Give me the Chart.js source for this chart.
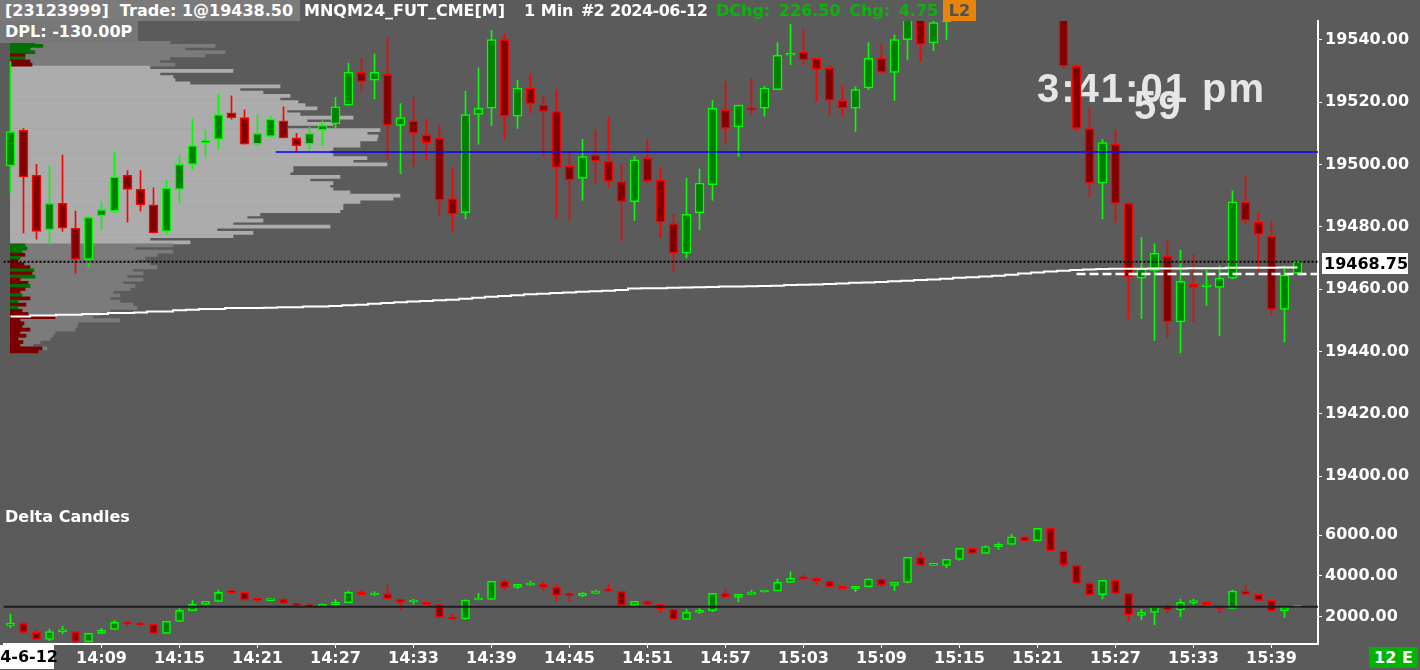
<!DOCTYPE html>
<html>
<head>
<meta charset="utf-8">
<script src="https://cdn.jsdelivr.net/npm/chart.js@4.4.1/dist/chart.umd.min.js"></script>
<style>
  html, body { margin: 0; padding: 0; }
  body { width: 1420px; height: 670px; overflow: hidden; position: relative; background: #5b5b5b;
         font-family: 'DejaVu Sans', sans-serif; font-weight: bold; font-size: 16px; color: #fff; }
  canvas, .lbl { position: absolute; }
  .lbl { white-space: pre; line-height: 21px; height: 21px; }
  .clock { position: absolute; font-family: 'Liberation Sans', Arial, sans-serif; font-weight: bold;
           font-size: 40px; line-height: 40px; letter-spacing: 2px; color: #e6e6e6; white-space: pre; }
</style>
</head>
<body>
<canvas id="profile" width="1318" height="500" style="left:0;top:0"></canvas>
<div class="clock" style="left:1037px;top:68px">3:41:01 pm</div>
<div class="clock" style="left:1134px;top:85px">59</div>
<canvas id="price" width="1420" height="500" style="left:0;top:0"></canvas>
<canvas id="delta" width="1420" height="170" style="left:0;top:500px"></canvas>

<div class="lbl" style="left:0;top:0;width:295px;padding-left:5px;background:#7b7b7b">[23123999]  Trade: 1@19438.50</div>
<div class="lbl" style="left:304px;top:0">MNQM24_FUT_CME[M]</div>
<div class="lbl" style="left:524px;top:0">1 Min</div>
<div class="lbl" style="left:581px;top:0;letter-spacing:-1px">#2</div>
<div class="lbl" style="left:610px;top:0;letter-spacing:-0.5px">2024-06-12</div>
<div class="lbl" style="left:716px;top:0;color:#0cb30c;word-spacing:3px">DChg: 226.50 Chg: 4.75</div>
<div class="lbl" style="left:943px;top:0;width:33px;text-align:center;background:#e8840a;color:#505050">L2</div>
<div class="lbl" style="left:0;top:21px;height:22px;width:133px;padding-left:5px;background:#777">DPL: -130.00P</div>
<div class="lbl" style="left:1322px;top:253px;width:84px;padding-left:2px;background:#fff;color:#000">19468.75</div>
<div class="lbl" style="left:5px;top:506px">Delta Candles</div>
<div class="lbl" style="left:-12px;top:645px;height:24px;line-height:24px;width:65px;padding-left:1px;background:#fff;color:#000">24-6-12</div>
<div class="lbl" style="left:1369px;top:647px;width:49px;text-align:center;background:#00b300">12 E</div>

<script>
// 1-minute bars 14:02 .. 15:41
const TIMES = [
  '14:02','14:03','14:04','14:05','14:06','14:07','14:08','14:09','14:10','14:11',
  '14:12','14:13','14:14','14:15','14:16','14:17','14:18','14:19','14:20','14:21',
  '14:22','14:23','14:24','14:25','14:26','14:27','14:28','14:29','14:30','14:31',
  '14:32','14:33','14:34','14:35','14:36','14:37','14:38','14:39','14:40','14:41',
  '14:42','14:43','14:44','14:45','14:46','14:47','14:48','14:49','14:50','14:51',
  '14:52','14:53','14:54','14:55','14:56','14:57','14:58','14:59','15:00','15:01',
  '15:02','15:03','15:04','15:05','15:06','15:07','15:08','15:09','15:10','15:11',
  '15:12','15:13','15:14','15:15','15:16','15:17','15:18','15:19','15:20','15:21',
  '15:22','15:23','15:24','15:25','15:26','15:27','15:28','15:29','15:30','15:31',
  '15:32','15:33','15:34','15:35','15:36','15:37','15:38','15:39','15:40','15:41'];
const TIME_TICKS = ['14:09','14:15','14:21','14:27','14:33','14:39','14:45','14:51',
  '14:57','15:03','15:09','15:15','15:21','15:27','15:33','15:39'];

const OPEN = [
  19499.5,19511,19496.5,19479,19487.5,19479.5,19469.5,19483.5,19485,19496.5,
  19492,19487,19478.5,19492,19500,19507,19508,19516.5,19515,19506.5,
  19509,19514,19508.5,19506.5,19511,19513,19519,19529.5,19527,19529,
  19512.5,19514,19509.5,19508.5,19489,19484.5,19516,19518,19540,19515.5,
  19524.5,19519,19517,19499.5,19495.5,19503,19501,19494.5,19488,19502,
  19495,19481,19471.5,19484.5,19493.5,19517.5,19512,19518,19518,19524,
  19535,19536,19534,19531,19520.5,19518,19524.5,19534,19529.5,19540,
  19549,19539,19545.75,19549,19554,19551.5,19556,19557.5,19562,19559.5,
  19564,19556,19531.5,19511.5,19494,19506.5,19487.5,19463.5,19466,19470.5,
  19449.5,19461.5,19460.75,19460.5,19463.5,19488,19481.5,19477,19453.5,19465];
const HIGH = [
  19533,19511.5,19500,19499.5,19503,19485,19483.5,19488,19504,19498,
  19498,19492.5,19495,19503,19514.5,19511,19522.5,19522,19517.5,19516,
  19515.5,19518.5,19510,19512,19514,19521.5,19532.5,19534,19535.5,19540.5,
  19519.5,19521.5,19514.5,19512.5,19499,19523.5,19531,19543,19542,19527,
  19529,19522,19524,19504,19508,19511,19515,19500,19502.5,19508,
  19499,19484,19495.5,19498.5,19520.5,19526.5,19519,19527.5,19525,19539,
  19545,19543.5,19534,19531.5,19525,19525,19539,19538.5,19541.5,19551,
  19552,19547,19553,19556,19557,19558,19559.5,19564,19563.5,19566,
  19565,19557,19532,19518,19508,19511,19488,19476.5,19474.5,19475.5,
  19472.5,19471,19466,19467.5,19491.5,19496.5,19484.5,19482,19467.5,19469];
const LOW = [
  19491,19478,19476,19474.5,19478.5,19465,19467,19479,19484.5,19481.5,
  19485,19478,19477.5,19487.5,19498.5,19502.5,19505,19514.5,19506.5,19506,
  19509,19508.5,19504,19504.5,19506,19511.5,19519,19523.5,19521,19501.5,
  19497,19499.5,19501.5,19483.5,19478.5,19482.5,19506.5,19512.5,19508,19511.5,
  19516.5,19502.5,19483,19482,19488.5,19494,19492.5,19475.5,19482,19494,
  19476.5,19465.5,19470,19479,19488.5,19506.5,19502.5,19516,19515.5,19524,
  19532,19532,19520,19516,19515.5,19510.5,19524,19529.5,19520.5,19533.5,
  19533,19536.5,19540,19547.5,19550,19550,19554,19556,19558,19558,
  19555,19531,19511,19489.5,19482.5,19481.5,19450.5,19450.5,19443.5,19444.5,
  19439.5,19449.5,19454.75,19445,19463.25,19481,19465,19451.5,19443,19465];
const CLOSE = [
  19510.5,19496,19478.5,19487.5,19479.5,19469.5,19483,19485.5,19496,19492,
  19487,19478,19492.5,19500,19506,19507.5,19516,19515,19506.5,19510,
  19514.5,19508.5,19506,19510,19512.5,19518.5,19529.5,19526.5,19529.5,19512.5,
  19515,19510,19507,19488.5,19484,19516,19518,19540,19515.5,19524.5,
  19519.5,19517,19499,19495,19502.5,19501,19494.5,19488,19501.5,19494.5,
  19481.5,19471.5,19484,19494,19518,19511.5,19519,19517.5,19524.5,19535,
  19535.5,19533.5,19530.5,19520.5,19518,19524,19534,19529.5,19540,19548,
  19538.5,19545.5,19549,19554,19551.5,19556,19557.5,19562,19559.5,19564,
  19556,19531.5,19511.5,19494,19507,19487.5,19464,19466.5,19471.5,19449.5,
  19462.5,19460.5,19461,19463.5,19488,19482,19477.5,19453.5,19464.5,19468.75];

const VWAP = [
  19451.2,19451.2,19451.5,19451.5,19451.8,19451.8,19452.0,19452.0,19452.3,19452.3,
  19452.5,19452.8,19452.8,19453.2,19453.4,19453.6,19453.6,19453.9,19453.9,19453.9,
  19454.0,19454.2,19454.2,19454.4,19454.4,19454.6,19454.8,19455.0,19455.3,19455.5,
  19455.8,19456.0,19456.2,19456.4,19456.6,19456.9,19457.2,19457.5,19457.8,19458.0,
  19458.3,19458.5,19458.7,19458.9,19459.1,19459.3,19459.5,19459.7,19460.2,19460.3,
  19460.3,19460.4,19460.5,19460.6,19460.7,19460.8,19460.8,19460.9,19461.0,19461.1,
  19461.3,19461.4,19461.5,19461.6,19461.8,19462.0,19462.1,19462.3,19462.5,19462.7,
  19462.9,19463.1,19463.3,19463.6,19463.8,19464.0,19464.3,19464.6,19465.0,19465.3,
  19465.6,19465.9,19466.1,19466.3,19466.4,19466.5,19466.5,19466.5,19466.6,19466.6,
  19466.6,19466.7,19466.7,19466.7,19466.8,19466.8,19466.8,19466.8,19466.9,19466.9];

const D_OPEN = [
  1575,1675,1230,890,1265,1265,775,1185,1380,1740,
  1690,1625,1183,1771,2294,2604,2751,3200,3192,2830,
  2790,2850,2637,2555,2490,2572,2686,3192,3062,3127,
  2850,2720,2702,2588,1967,1886,2817,2850,3731,3437,
  3552,3600,3437,3062,3029,3143,3270,3241,2555,2751,
  2604,2359,1869,2212,2294,3143,2947,3094,3208,3257,
  3682,3895,3878,3731,3486,3372,3470,3845,3535,3682,
  4907,4515,4515,4809,5348,5103,5430,5544,5919,5723,
  6327,5233,4515,3633,3078,3780,3143,2065,2212,2506,
  2327,2690,2702,2539,2408,3257,3094,2800,2278,2457];
const D_HIGH = [
  2130,1755,1345,1395,1545,1265,1185,1430,1805,1790,
  1720,1673,1771,2392,2817,2751,3306,3257,3210,2882,
  2850,2947,2653,2653,2620,2850,3257,3290,3225,3535,
  2865,2850,2720,2604,2114,2830,3143,3731,3829,3584,
  3747,3700,3633,3225,3176,3306,3633,3257,2751,2850,
  2604,2359,2376,2408,3143,3355,3094,3306,3257,3845,
  4204,4040,3900,3796,3500,3486,3878,3878,3682,4907,
  5152,4613,4809,5348,5397,5480,5625,6050,5935,6327,
  6360,5233,4515,3682,3780,3800,3143,2360,2506,2600,
  2865,2865,2720,2539,3306,3551,3110,2817,2457,2506];
const D_LOW = [
  1460,1185,860,825,1150,725,760,1183,1380,1560,
  1575,1183,1183,1771,2294,2604,2751,3143,2800,2719,
  2784,2653,2540,2460,2475,2572,2686,3078,3045,2865,
  2360,2604,2590,1950,1886,1870,2817,2850,3306,3372,
  3520,3274,2768,2735,2980,3143,3225,2500,2555,2604,
  2163,1869,1869,2147,2245,2947,2735,3094,3200,3257,
  3682,3829,3551,3437,3372,3208,3470,3486,3274,3650,
  4515,4500,4400,4760,5103,5103,5300,5544,5723,5723,
  5233,4400,3633,3078,2865,3143,1755,1837,1608,2163,
  2000,2600,2572,2196,2408,3094,2784,2278,1967,2457];
const D_CLOSE = [
  1675,1230,890,1265,1270,775,1185,1347,1720,1640,
  1592,1183,1771,2310,2604,2751,3192,3180,2817,2800,
  2850,2653,2555,2490,2604,2702,3192,3078,3143,2865,
  2702,2735,2604,1967,1886,2817,2866,3731,3437,3584,
  3600,3437,3045,3029,3143,3257,3257,2555,2751,2604,
  2376,1869,2212,2310,3143,2947,3094,3208,3257,3682,
  3878,3860,3731,3470,3372,3486,3845,3535,3682,4907,
  4515,4530,4809,5348,5103,5430,5560,5919,5723,6327,
  5233,4515,3633,3078,3780,3143,2082,2212,2506,2327,
  2702,2720,2572,2408,3257,3094,2800,2278,2457,2506];

// volume profile rows, top to bottom
const PROFILE_PRICE = [
  19539,19538,19537,19536,19535,19534,19533,19532,19531,19530,
  19529,19528,19527,19526,19525,19524,19523,19522,19521,19520,
  19519,19518,19517,19516,19515,19514,19513,19512,19511,19510,
  19509,19508,19507,19506,19505,19504,19503,19502,19501,19500,
  19499,19498,19497,19496,19495,19494,19493,19492,19491,19490,
  19489,19488,19487,19486,19485,19484,19483,19482,19481,19480,
  19479,19478,19477,19476,19475,19474,19473,19472,19471,19470,
  19469,19468,19467,19466,19465,19464,19463,19462,19461,19460,
  19459,19458,19457,19456,19455,19454,19453,19452,19451,19450,
  19449,19448,19447,19446,19445,19444,19443,19442,19441,19440];
const PROFILE_VOL = [
  160,205,175,215,195,160,150,165,140,223,
  150,163,165,180,270,230,253,280,270,288,
  295,307,277,290,343,297,323,277,370,357,
  368,367,350,350,323,320,323,357,343,377,
  283,283,280,330,300,323,320,323,340,390,
  383,350,333,333,330,250,237,253,223,320,
  207,243,223,140,180,163,125,163,147,135,
  127,140,147,123,133,117,133,113,125,120,
  103,110,100,110,123,127,100,90,83,110,
  68,67,65,45,43,40,30,23,37,23];
const PROFILE_DELTA = [
  25,33,20,25,-15,15,-20,-22,null,null,
  null,null,null,null,null,null,null,null,null,null,
  null,null,null,null,null,null,null,null,null,null,
  null,null,null,null,null,null,null,null,null,null,
  null,null,null,null,null,null,null,null,null,null,
  null,null,null,null,null,null,null,null,null,null,
  null,null,null,null,null,15,17,12,-15,10,
  -8,-14,-20,24,-22,25,-10,-18,20,-15,
  -10,12,-20,8,-16,8,-12,-18,-45,-10,
  -14,-12,-20,-10,-16,-8,-13,-10,-32,-28];
const VA_LOW = 19475, VA_HIGH = 19531;

const PRICE_TICKS = [19400, 19420, 19440, 19460, 19480, 19500, 19520, 19540];
const DELTA_TICKS = [2000, 4000, 6000];
const LAST_PRICE = 19468.75;
const BLUE_LEVEL = 19504, BLUE_FROM = 20.4;
const DASH_LEVEL = 19464.8, DASH_FROM = 82;
const DELTA_REF = 2490;

// view ranges
const X_MIN = -0.5385, X_MAX = 100.577;
const MAIN_MIN = 19392.33, MAIN_MAX = 19546;
const DELTA_MIN = 662, DELTA_MAX = 7718;
const AXIS_W = 102;

const UP_LINE = '#00ff00', UP_FILL = '#008000', DN_LINE = '#ff0000', DN_FILL = '#800000';

Chart.defaults.font.family = "'DejaVu Sans', sans-serif";
Chart.defaults.font.weight = 'bold';
Chart.defaults.font.size = 16;
Chart.defaults.color = '#ffffff';

function noPad(s) {
    s.paddingTop = 0; s.paddingBottom = 0; s.paddingLeft = 0; s.paddingRight = 0;
}

function candleSets(o, h, l, c, bodyW) {
    const up = o.map((v, i) => c[i] >= v);
    return [
        { label: '_wick', data: o.map((v, i) => ({ x: i, y: [l[i], h[i]] })),
          backgroundColor: up.map(u => u ? UP_LINE : DN_LINE),
          barThickness: 1, grouped: false, order: 3 },
        { label: '_body', data: o.map((v, i) => ({ x: i, y: [v, c[i]] })),
          backgroundColor: up.map(u => u ? UP_FILL : DN_FILL),
          borderColor: up.map(u => u ? UP_LINE : DN_LINE),
          borderWidth: 1.5, borderSkipped: false, minBarLength: 2,
          barThickness: bodyW, grouped: false, order: 2 },
    ];
}

function hLine(y, from, to, color, width, dash) {
    return { type: 'line', label: '_lvl', data: [{ x: from, y }, { x: to, y }],
             borderColor: color, borderWidth: width, borderDash: dash || [],
             pointRadius: 0, order: 0 };
}

function timeAxis(show) {
    return {
        type: 'linear', position: 'bottom', min: X_MIN, max: X_MAX, offset: false, display: show,
        afterBuildTicks: s => { s.ticks = TIME_TICKS.map(t => ({ value: TIMES.indexOf(t) })); },
        afterFit: s => { s.height = show ? 26 : 0; noPad(s); },
        grid: { drawOnChartArea: false, offset: false, tickLength: 4, tickColor: '#fff', tickWidth: 1 },
        border: { color: '#fff', width: 2 },
        ticks: { color: '#fff', padding: 1, maxRotation: 0, autoSkip: false, callback: v => TIMES[v] },
    };
}

function rightAxis(min, max, ticks) {
    return {
        type: 'linear', position: 'right', min, max,
        afterBuildTicks: s => { s.ticks = ticks.map(v => ({ value: v })); },
        afterFit: s => { s.width = AXIS_W; noPad(s); },
        grid: { drawOnChartArea: false, tickLength: 4, tickColor: '#fff', tickWidth: 1 },
        border: { color: '#fff', width: 2 },
        ticks: { color: '#fff', padding: 3, callback: v => Number(v).toFixed(2) },
    };
}

const common = {
    responsive: false, animation: false, events: [],
    plugins: { legend: { display: false }, tooltip: { enabled: false } },
};

// volume profile (drawn under the price chart)
new Chart(document.getElementById('profile'), {
    type: 'bar',
    data: {
        datasets: [
            { label: 'delta', data: PROFILE_PRICE.map((p, i) => ({ y: p, x: PROFILE_DELTA[i] == null ? null : Math.abs(PROFILE_DELTA[i]) })),
              backgroundColor: PROFILE_DELTA.map(d => d > 0 ? '#007000' : '#7a0000'),
              barPercentage: 1, categoryPercentage: 1, grouped: false, order: 1 },
            { label: 'volume', data: PROFILE_PRICE.map((p, i) => ({ y: p, x: PROFILE_VOL[i] })),
              backgroundColor: PROFILE_PRICE.map(p => (p >= VA_LOW && p <= VA_HIGH) ? '#acacac' : '#7b7b7b'),
              barPercentage: 1, categoryPercentage: 1, grouped: false, order: 2 },
        ],
    },
    options: {
        ...common,
        indexAxis: 'y',
        layout: { padding: { left: 10, top: 21 } },
        scales: {
            x: { type: 'linear', min: 0, max: 1308, display: false },
            y: { type: 'linear', min: MAIN_MIN, max: MAIN_MAX, offset: false, display: false },
        },
    },
});

// price pane
new Chart(document.getElementById('price'), {
    type: 'bar',
    data: {
        datasets: [
            ...candleSets(OPEN, HIGH, LOW, CLOSE, 9),
            { type: 'line', label: 'VWAP', data: VWAP.map((v, i) => ({ x: i, y: v })),
              borderColor: '#ffffff', borderWidth: 2, pointRadius: 0, stepped: 'middle', order: 1 },
            hLine(BLUE_LEVEL, BLUE_FROM, X_MAX, '#0000ff', 1.5),
            hLine(DASH_LEVEL, DASH_FROM, X_MAX, '#ffffff', 2.5, [9, 4]),
            hLine(LAST_PRICE, X_MIN, X_MAX, '#000000', 2, [2, 2]),
        ],
    },
    options: {
        ...common,
        layout: { padding: { left: 3.5, top: 21, bottom: 0 } },
        scales: {
            x: timeAxis(false),
            y: rightAxis(MAIN_MIN, MAIN_MAX, PRICE_TICKS),
        },
    },
});

// delta candles pane
new Chart(document.getElementById('delta'), {
    type: 'bar',
    data: {
        datasets: [
            ...candleSets(D_OPEN, D_HIGH, D_LOW, D_CLOSE, 8),
            hLine(DELTA_REF, X_MIN, X_MAX, '#1c1c1c', 2),
        ],
    },
    options: {
        ...common,
        layout: { padding: { left: 3.5, top: 0 } },
        scales: {
            x: timeAxis(true),
            y: rightAxis(DELTA_MIN, DELTA_MAX, DELTA_TICKS),
        },
    },
});
</script>
</body>
</html>
